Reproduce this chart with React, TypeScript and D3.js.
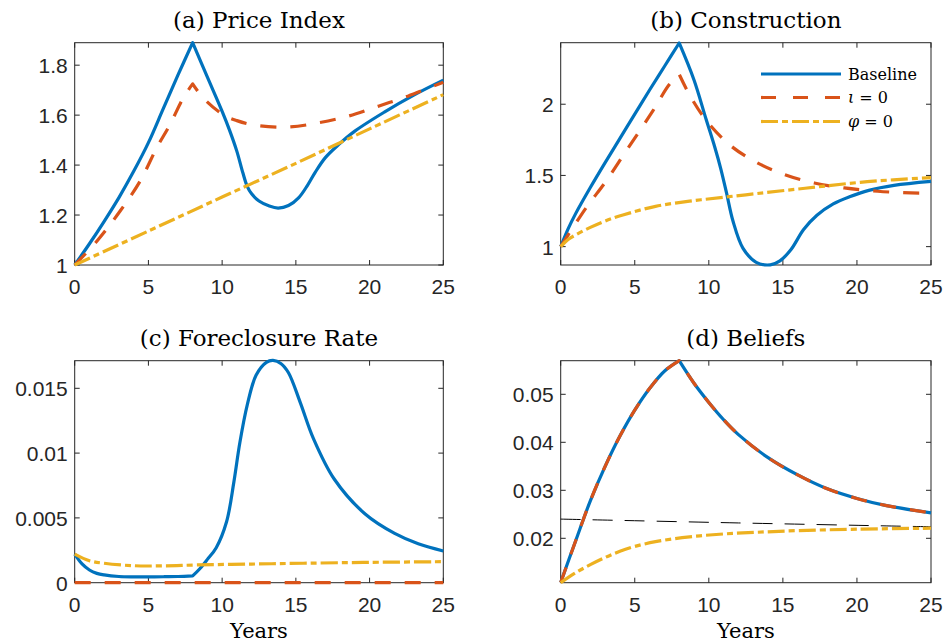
import React from 'react';
import * as d3 from 'd3';

type Pt = [number, number];

// MATLAB default line colours
const BLUE = '#0072BD';
const RED = '#D95319';
const YELLOW = '#EDB120';
const AXIS = '#262626';

// ---- shared x axis ----
const yearTicks = [0, 5, 10, 15, 20, 25];

// ---- (a) Price Index ----
const priceBaseRise: Pt[] = [[0, 1], [1, 1.085], [2, 1.175], [3, 1.27], [4, 1.375], [5, 1.49], [6, 1.625], [7, 1.76], [8, 1.89]];
const priceBaseFall: Pt[] = [[8, 1.89], [9, 1.752], [10, 1.615], [10.5, 1.54], [11, 1.455], [11.4, 1.37], [11.7, 1.315], [12, 1.285], [12.5, 1.256], [13.2, 1.236], [13.8, 1.228], [14.5, 1.238], [15.2, 1.27], [15.8, 1.32], [16.3, 1.37], [17, 1.43], [17.9, 1.482], [19, 1.536], [21, 1.612], [23, 1.68], [25, 1.74]];
const priceIotaRise: Pt[] = [[0, 1], [1.5, 1.095], [3.07, 1.215], [4.43, 1.335], [5.56, 1.469], [6.46, 1.562], [7.36, 1.669], [8, 1.725]];
const priceIotaFall: Pt[] = [[8, 1.725], [8.7, 1.67], [10.07, 1.602], [11, 1.578], [12.2, 1.56], [14.4, 1.552], [16.5, 1.569], [18.55, 1.596], [20.6, 1.636], [22.6, 1.676], [25, 1.732]];
const priceNoPhi: Pt[] = [[0, 1], [5, 1.136], [10, 1.272], [15, 1.407], [20, 1.545], [25, 1.682]];
const priceTicks = [1, 1.2, 1.4, 1.6, 1.8];

// ---- (b) Construction ----
const consBaseRise: Pt[] = [[0, 1], [0.5, 1.125], [1, 1.23], [2, 1.415], [3, 1.59], [4, 1.76], [5, 1.93], [6, 2.1], [7, 2.265], [8, 2.43]];
const consBaseFall: Pt[] = [[8, 2.43], [9, 2.17], [9.8, 1.9], [10.4, 1.7], [10.8, 1.55], [11.2, 1.375], [11.63, 1.18], [12.3, 0.99], [13.2, 0.89], [14.15, 0.872], [14.8, 0.9], [15.55, 0.98], [16.4, 1.12], [17.3, 1.22], [18.4, 1.3], [19.5, 1.35], [20.8, 1.395], [22.5, 1.43], [25, 1.458]];
const consIotaRise: Pt[] = [[0, 1], [1.71, 1.272], [3.06, 1.459], [4.41, 1.67], [6.21, 1.951], [7.33, 2.138], [8, 2.21]];
const consIotaFall: Pt[] = [[8, 2.21], [8.69, 2.067], [9.8, 1.89], [11.39, 1.716], [13.07, 1.6], [15.1, 1.506], [17.12, 1.447], [19.15, 1.412], [21.4, 1.389], [23.65, 1.377], [25, 1.375]];
const consNoPhi: Pt[] = [[0, 1], [0.5, 1.05], [1, 1.082], [2, 1.135], [3, 1.18], [4.2, 1.222], [6.4, 1.283], [8.7, 1.319], [11, 1.347], [12.5, 1.364], [16.5, 1.41], [20.7, 1.456], [25, 1.485]];
const consTicks = [1, 1.5, 2];

// ---- (c) Foreclosure Rate ----
const foreBaseRise: Pt[] = [[0, 0.00221], [0.5, 0.00145], [1, 0.00098], [1.5, 0.00072], [2, 0.0006], [3, 0.00048], [4, 0.00045], [5, 0.00045], [6, 0.00046], [7, 0.00048], [8, 0.00052]];
const foreBaseFall: Pt[] = [[8, 0.00052], [8.5, 0.0011], [9, 0.0018], [9.6, 0.0027], [10.3, 0.0047], [10.8, 0.0078], [11.2, 0.0108], [11.7, 0.0137], [12.3, 0.016], [13, 0.017], [13.45, 0.01715], [14, 0.0169], [14.5, 0.0162], [15.3, 0.0139], [16.2, 0.0111], [17.6, 0.008], [19.7, 0.0053], [21.7, 0.0038], [23.3, 0.003], [25, 0.00245]];
const foreIota: Pt[] = [[0, 0], [25, 0]];
const foreNoPhi: Pt[] = [[0, 0.00221], [1, 0.0017], [2, 0.0015], [4, 0.00131], [6, 0.0013], [8.3, 0.00137], [12, 0.00144], [15.5, 0.0015], [20, 0.00157], [25, 0.00162]];
const foreTicks = [0, 0.005, 0.01, 0.015];

// ---- (d) Beliefs ----
const beliefBaseRise: Pt[] = [[0, 0.0108], [1, 0.0194], [2, 0.0278], [3, 0.035], [4, 0.0413], [5, 0.0467], [6, 0.0512], [7, 0.0548], [8, 0.057]];
const beliefBaseFall: Pt[] = [[8, 0.057], [9, 0.0523], [10, 0.0483], [11, 0.0447], [12, 0.0416], [14, 0.0368], [16, 0.0332], [18, 0.0303], [20, 0.0283], [22, 0.0268], [25, 0.0253]];
const beliefNoPhi: Pt[] = [[0, 0.01075], [1, 0.0128], [2, 0.0145], [3, 0.016], [4, 0.0173], [5, 0.0183], [6.4, 0.0193], [8.7, 0.0203], [11, 0.0209], [13.2, 0.02125], [16, 0.0216], [20, 0.0219], [25, 0.0221]];
const beliefRef: Pt[] = [[0, 0.024], [12, 0.0232], [25, 0.0224]];
const beliefTicks = [0.02, 0.03, 0.04, 0.05];

interface Series {
  segs: Pt[][];
  color: string;
  width: number;
  dash?: string;
}

interface PanelProps {
  title: string;
  left: number;
  right: number;
  top: number;
  bottom: number;
  yDomain: [number, number];
  yTicks: number[];
  series: Series[];
  xLabel?: boolean;
  legend?: boolean;
}

const DASH = '16,14';
const DASHDOT = '17,4,6,4';
const LW = 3.2;

function Panel({ title, left, right, top, bottom, yDomain, yTicks, series, xLabel, legend }: PanelProps) {
  const x = d3.scaleLinear().domain([0, 25]).range([left, right]);
  const y = d3.scaleLinear().domain(yDomain).range([bottom, top]);
  const line = d3
    .line<Pt>()
    .x((d) => x(d[0]))
    .y((d) => y(d[1]))
    .curve(d3.curveCatmullRom.alpha(0.5));

  // join segments into one path so the dash pattern runs on across the kink
  const pathOf = (segs: Pt[][]) =>
    segs.map((s, i) => (i === 0 ? line(s) || '' : (line(s) || '').replace(/^M/, 'L'))).join('');

  const tick = 5;
  const cx = (left + right) / 2;

  return (
    <g>
      <text x={cx} y={top - 15} textAnchor="middle" fontFamily="DejaVu Serif" fontSize={23} fill="#000">
        {title}
      </text>

      {/* box */}
      <rect x={left} y={top} width={right - left} height={bottom - top} fill="none" stroke={AXIS} strokeWidth={1} />

      {yearTicks.map((t) => (
        <g key={'x' + t}>
          <line x1={x(t)} x2={x(t)} y1={bottom} y2={bottom - tick} stroke={AXIS} />
          <line x1={x(t)} x2={x(t)} y1={top} y2={top + tick} stroke={AXIS} />
          <text x={x(t)} y={bottom + 29} textAnchor="middle" fontFamily="Liberation Sans" fontSize={21} fill={AXIS}>
            {String(t)}
          </text>
        </g>
      ))}
      {yTicks.map((v) => (
        <g key={'y' + v}>
          <line x1={left} x2={left + tick} y1={y(v)} y2={y(v)} stroke={AXIS} />
          <line x1={right} x2={right - tick} y1={y(v)} y2={y(v)} stroke={AXIS} />
          <text x={left - 7} y={y(v) + 8} textAnchor="end" fontFamily="Liberation Sans" fontSize={21} fill={AXIS}>
            {String(v)}
          </text>
        </g>
      ))}

      {series.map((s, i) => (
        <path
          key={i}
          d={pathOf(s.segs)}
          fill="none"
          stroke={s.color}
          strokeWidth={s.width}
          strokeDasharray={s.dash}
          strokeLinejoin="round"
        />
      ))}

      {xLabel && (
        <text x={cx} y={bottom + 55} textAnchor="middle" fontFamily="DejaVu Serif" fontSize={21} fill="#000">
          Years
        </text>
      )}

      {legend && (
        <g fontFamily="DejaVu Serif" fontSize={16} fill="#000">
          <line x1={761} x2={841} y1={74} y2={74} stroke={BLUE} strokeWidth={LW} />
          <text x={848} y={79.5}>Baseline</text>
          <line x1={761} x2={841} y1={97.5} y2={97.5} stroke={RED} strokeWidth={LW} strokeDasharray="15,17" />
          <text x={848} y={103}>
            <tspan fontStyle="italic">ι</tspan> = 0
          </text>
          <line x1={761} x2={841} y1={121.5} y2={121.5} stroke={YELLOW} strokeWidth={LW} strokeDasharray={DASHDOT} />
          <text x={848} y={127}>
            <tspan fontStyle="italic">φ</tspan> = 0
          </text>
        </g>
      )}
    </g>
  );
}

export default function App() {
  return (
    <svg width={945} height={643} style={{ display: 'block', position: 'absolute', left: 0, top: 0, background: '#fff' }}>
      <rect width={945} height={643} fill="#fff" />
      <Panel
        title="(a) Price Index"
        left={74.7}
        right={443.3}
        top={42.7}
        bottom={265}
        yDomain={[1, 1.89]}
        yTicks={priceTicks}
        series={[
          { segs: [priceBaseRise, priceBaseFall], color: BLUE, width: LW },
          { segs: [priceIotaRise, priceIotaFall], color: RED, width: LW, dash: DASH },
          { segs: [priceNoPhi], color: YELLOW, width: LW, dash: DASHDOT },
        ]}
      />
      <Panel
        title="(b) Construction"
        left={560.7}
        right={931}
        top={42.7}
        bottom={265}
        yDomain={[0.871, 2.432]}
        yTicks={consTicks}
        legend
        series={[
          { segs: [consBaseRise, consBaseFall], color: BLUE, width: LW },
          { segs: [consIotaRise, consIotaFall], color: RED, width: LW, dash: DASH },
          { segs: [consNoPhi], color: YELLOW, width: LW, dash: DASHDOT },
        ]}
      />
      <Panel
        title="(c) Foreclosure Rate"
        left={74.7}
        right={443.3}
        top={360.7}
        bottom={582.7}
        yDomain={[0, 0.01713]}
        yTicks={foreTicks}
        xLabel
        series={[
          { segs: [foreBaseRise, foreBaseFall], color: BLUE, width: LW },
          { segs: [foreIota], color: RED, width: LW, dash: DASH },
          { segs: [foreNoPhi], color: YELLOW, width: LW, dash: DASHDOT },
        ]}
      />
      <Panel
        title="(d) Beliefs"
        left={560.7}
        right={931}
        top={360.7}
        bottom={582.7}
        yDomain={[0.01075, 0.057]}
        yTicks={beliefTicks}
        xLabel
        series={[
          { segs: [beliefRef], color: '#000', width: 1, dash: '20,12' },
          { segs: [beliefBaseRise, beliefBaseFall], color: BLUE, width: LW },
          { segs: [beliefBaseRise, beliefBaseFall], color: RED, width: LW, dash: DASH },
          { segs: [beliefNoPhi], color: YELLOW, width: LW, dash: DASHDOT },
        ]}
      />
    </svg>
  );
}
